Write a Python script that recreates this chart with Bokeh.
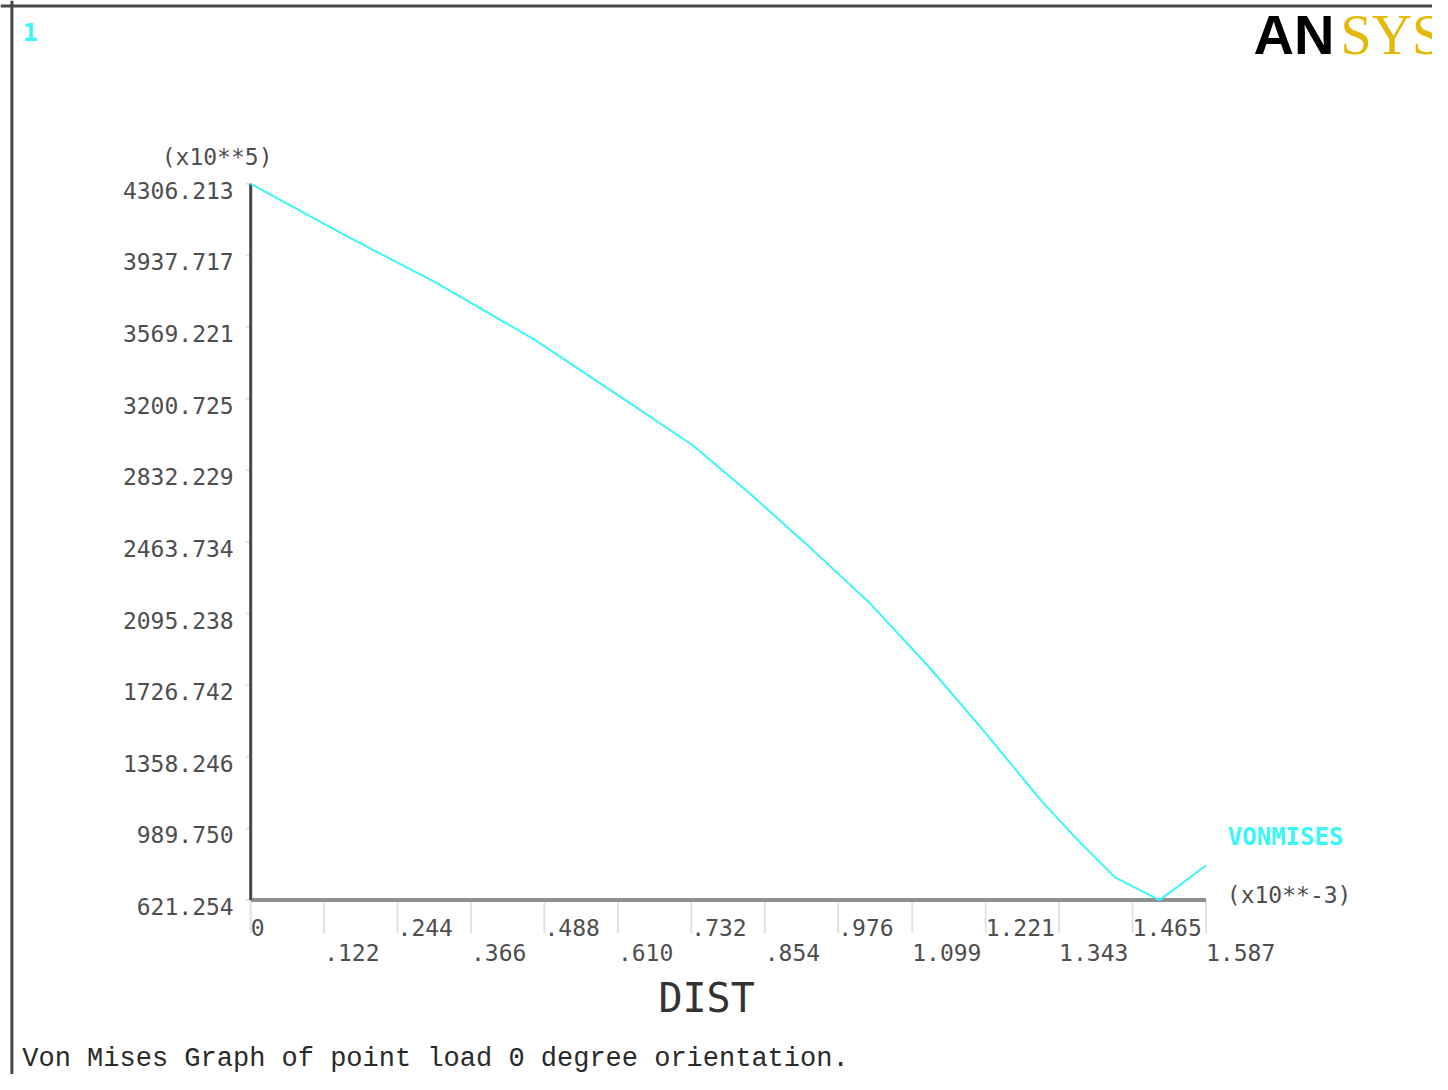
import math
from bokeh.plotting import figure
from bokeh.models import ColumnDataSource, LabelSet, Label, Range1d, Span
from bokeh.core.properties import value
from bokeh.embed import file_html
from bokeh.resources import INLINE

# ---- data (DIST in x10**-3, VONMISES in x10**5) ----
dist = [0.0, 0.1594, 0.3072, 0.4715, 0.6194, 0.7344, 0.8330, 0.9315,
        1.0301, 1.1287, 1.2157, 1.3143, 1.3751, 1.4359, 1.5098, 1.587]
vonmises = [4306.213, 4037.2, 3798.6, 3504.3, 3199.7, 2961.2, 2702.3, 2428.2,
            2144.0, 1814.0, 1499.3, 1128.8, 925.8, 738.0, 621.254, 798.9]

y_ticks = [621.254, 989.750, 1358.246, 1726.742, 2095.238, 2463.734,
           2832.229, 3200.725, 3569.221, 3937.717, 4306.213]
y_tick_labels = ["621.254", "989.750", "1358.246", "1726.742", "2095.238", "2463.734",
                 "2832.229", "3200.725", "3569.221", "3937.717", "4306.213"]
x_ticks = [0.0, 0.122, 0.244, 0.366, 0.488, 0.610, 0.732, 0.854,
           0.976, 1.099, 1.221, 1.343, 1.465, 1.587]
x_tick_labels = ["0", ".122", ".244", ".366", ".488", ".610", ".732", ".854",
                 ".976", "1.099", "1.221", "1.343", "1.465", "1.587"]

series_name = "VONMISES"
x_title = "DIST"
y_exp = "(x10**5)"
x_exp = "(x10**-3)"
caption = "Von Mises Graph of point load 0 degree orientation."
window_no = "1"

MONO = "DejaVu Sans Mono"
GRAY = "#4e4e4e"
CYAN = "#3cf6f6"

# ---- layout (pixels) ----
W, H = 1432, 1074
ML, MR, MT, MB = 250.2, 226.5, 183.3, 174.4   # space around the graph area

x0, x1 = min(x_ticks), max(x_ticks)
y0, y1 = min(y_ticks), max(y_ticks)
kx = (x1 - x0) / (W - ML - MR)
ky = (y1 - y0) / (H - MT - MB)

p = figure(width=W, height=H, output_backend="svg", toolbar_location=None,
           x_range=Range1d(x0 - ML * kx, x1 + MR * kx),
           y_range=Range1d(y0 - MB * ky, y1 + MT * ky),
           x_axis_type=None, y_axis_type=None, min_border=0)
p.outline_line_color = None
p.background_fill_color = "white"
p.border_fill_color = "white"
p.grid.visible = False

# window border (left / top)
p.add_layout(Span(location=x0 - (ML - 11.4) * kx, dimension="height", line_color="#474747", line_width=3))
p.add_layout(Span(location=y1 + (MT - 5.4) * ky, dimension="width", line_color="#474747", line_width=3))

# tick marks
p.ray(x=x_ticks, y=[y0] * len(x_ticks), length=33, length_units="screen", angle=-math.pi / 2,
      line_color="#e2e2e2", line_width=2)
p.ray(x=[x0] * len(y_ticks), y=y_ticks, length=5, length_units="screen", angle=math.pi,
      line_color="#e2e2e2", line_width=2)

# axis lines
p.segment(x0=[x0], y0=[y0], x1=[x1], y1=[y0], line_color="#8f8f8f", line_width=4)
p.segment(x0=[x0], y0=[y0], x1=[x0], y1=[y1], line_color="#474747", line_width=3)

# curve
p.line(dist, vonmises, line_color=CYAN, line_width=2)

# y tick labels
ysrc = ColumnDataSource(dict(x=[x0] * len(y_ticks), y=y_ticks, t=y_tick_labels))
p.add_layout(LabelSet(x="x", y="y", text="t", source=ysrc, x_offset=-17, y_offset=-6.5,
                      text_align="right", text_baseline="middle",
                      text_font=value(MONO), text_font_size="23px", text_color=GRAY))

# x tick labels, staggered in two rows
xsrc1 = ColumnDataSource(dict(x=x_ticks[0::2], y=[y0] * len(x_ticks[0::2]), t=x_tick_labels[0::2]))
xsrc2 = ColumnDataSource(dict(x=x_ticks[1::2], y=[y0] * len(x_ticks[1::2]), t=x_tick_labels[1::2]))
for src, off in ((xsrc1, -27.6), (xsrc2, -52.2)):
    p.add_layout(LabelSet(x="x", y="y", text="t", source=src, x_offset=0, y_offset=off,
                          text_align="left", text_baseline="middle",
                          text_font=value(MONO), text_font_size="23px", text_color=GRAY))

def lab(x, y, text, dx, dy, **kw):
    p.add_layout(Label(x=x, y=y, text=text, x_offset=dx, y_offset=dy, **kw))

lab(x0, y1, y_exp, -33.6, 26.6, text_align="center", text_baseline="middle",
    text_font=MONO, text_font_size="23px", text_color=GRAY)
lab(x1, y0, x_exp, 20.8, 4.9, text_align="left", text_baseline="middle",
    text_font=MONO, text_font_size="23px", text_color=GRAY)
lab(x1, y0, series_name, 21.8, 63, text_align="left", text_baseline="middle",
    text_font=MONO, text_font_size="24px", text_font_style="bold", text_color=CYAN)
lab(x0, y0, x_title, 455.9, -97.5, text_align="center", text_baseline="middle",
    text_font=MONO, text_font_size="40px", text_color="#333333")
lab(x0, y0, caption, -228.4, -173.5, text_align="left", text_baseline="bottom",
    text_font="Liberation Mono", text_font_size="27px", text_color="#2a2a2a")
lab(x0, y1, window_no, -220.5, 151.8, text_align="center", text_baseline="middle",
    text_font=MONO, text_font_size="25px", text_font_style="bold", text_color=CYAN)
# ANSYS logo
lab(x1, y1, "AN", 47.5, 149.3, text_align="left", text_baseline="middle",
    text_font="Liberation Sans", text_font_size="56px", text_font_style="bold", text_color="#000000")
lab(x1, y1, "SYS", 134.5, 149.3, text_align="left", text_baseline="middle",
    text_font="Liberation Serif", text_font_size="56px", text_color="#e3b90a")

open("out.html", "w").write(file_html(p, INLINE))
